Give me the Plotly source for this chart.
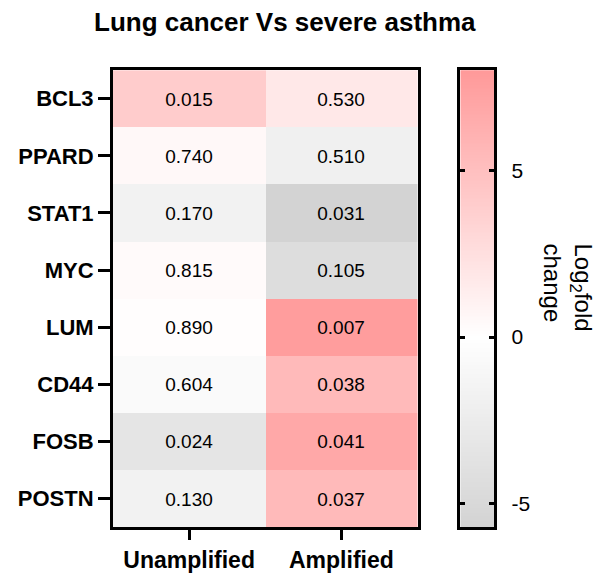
import numpy as np
import plotly.graph_objects as go

genes = ["BCL3", "PPARD", "STAT1", "MYC", "LUM", "CD44", "FOSB", "POSTN"]
groups = ["Unamplified", "Amplified"]
log2fc_unamplified = [4.0, 0.55, -1.7, 0.4, 0.15, -0.65, -3.4, -1.7]
log2fc_amplified = [1.8, -1.9, -5.7, -4.4, 7.7, 5.4, 6.8, 5.4]
pval_unamplified = ["0.015", "0.740", "0.170", "0.815", "0.890", "0.604", "0.024", "0.130"]
pval_amplified = ["0.530", "0.510", "0.031", "0.105", "0.007", "0.038", "0.041", "0.037"]
cbar_tickvals = [-5, 0, 5]
cbar_ticktext = ["-5", "0", "5"]
zmin, zmax = -5.7, 8.0

FONT = "Liberation Sans, Arial, sans-serif"
mid = (0 - zmin) / (zmax - zmin)
colorscale = [[0, "rgb(211,211,211)"], [mid, "rgb(255,255,255)"], [1, "rgb(255,153,153)"]]

z = [[u, a] for u, a in zip(log2fc_unamplified, log2fc_amplified)]
text = [[u, a] for u, a in zip(pval_unamplified, pval_amplified)]

fig = go.Figure()
fig.add_trace(go.Heatmap(
    z=z, x=groups, y=genes, text=text, texttemplate="%{text}",
    textfont=dict(family=FONT, size=19, color="black"),
    colorscale=colorscale, zmin=zmin, zmax=zmax, showscale=False,
    hoverinfo="skip", xaxis="x", yaxis="y",
))

grad = np.linspace(zmin, zmax, 300)
fig.add_trace(go.Heatmap(
    z=[[g] for g in grad], x=[0], y=grad,
    colorscale=colorscale, zmin=zmin, zmax=zmax, showscale=False,
    hoverinfo="skip", xaxis="x2", yaxis="y2",
))

ydom = [1 - 530 / 573, 1 - 70.5 / 573]
fig.update_layout(
    width=598, height=573,
    margin=dict(l=0, r=0, t=0, b=0),
    paper_bgcolor="white", plot_bgcolor="white",
    font=dict(family=FONT, color="black"),
    xaxis=dict(domain=[113 / 598, 417.5 / 598], showline=True, linewidth=3, linecolor="black",
               mirror=True, ticks="outside", ticklen=10, tickwidth=3, tickcolor="black",
               tickfont=dict(family=FONT, size=23, weight="bold"), showgrid=False, zeroline=False),
    yaxis=dict(domain=ydom, autorange="reversed", showline=True, linewidth=3, linecolor="black",
               mirror=True, ticks="outside", ticklen=12, tickwidth=3, tickcolor="black",
               tickfont=dict(family=FONT, size=22, weight="bold"), showgrid=False, zeroline=False),
    xaxis2=dict(domain=[460.3 / 598, 494.3 / 598], anchor="y2", showline=True, linewidth=3,
                linecolor="black", mirror=True, showticklabels=False, ticks="",
                showgrid=False, zeroline=False),
    yaxis2=dict(domain=ydom, anchor="x2", side="right", range=[zmin, zmax], showline=True,
                linewidth=3, linecolor="black", mirror="ticks", ticks="inside", ticklen=5,
                tickwidth=3, tickcolor="black", tickvals=cbar_tickvals, ticktext=cbar_ticktext,
                tickfont=dict(family=FONT, size=21), ticklabelstandoff=10,
                showgrid=False, zeroline=False),
    annotations=[
        dict(text="<b>Lung cancer Vs severe asthma</b>", x=284.5 / 598, y=1 - 22 / 573,
             xref="paper", yref="paper", xanchor="center", yanchor="middle", showarrow=False,
             font=dict(family=FONT, size=26, color="black")),
        dict(text="Log<sub>2</sub>fold<br>change", x=568 / 598, y=1 - 289 / 573,
             xref="paper", yref="paper", xanchor="center", yanchor="middle", showarrow=False,
             textangle=90, align="left", font=dict(family=FONT, size=24, color="black")),
    ],
)

fig.write_html("out.html")
